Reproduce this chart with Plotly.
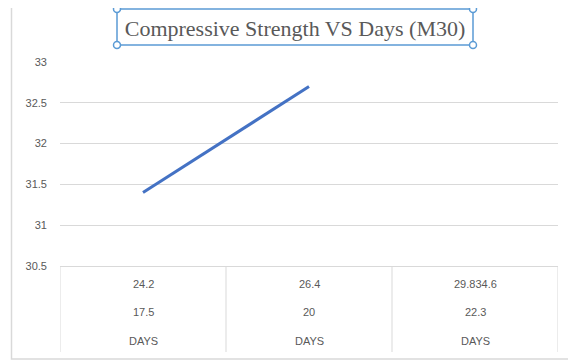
import plotly.graph_objects as go

# ---- data ----
label_row1 = ["24.2", "26.4", "29.834.6"]
label_row2 = ["17.5", "20", "22.3"]
label_row3 = ["DAYS", "DAYS", "DAYS"]
strength = [31.4, 32.7, None]
title_text = "Compressive Strength VS Days (M30)"
y_ticks = [30.5, 31, 31.5, 32, 32.5, 33]

# ---- geometry (reference pixels; page body has an 8px margin) ----
OFF = 8
W, H = 576 - OFF, 362 - OFF
PL, PR, PT, PB = 60 - OFF, 558 - OFF, 62 - OFF, 266 - OFF
pw, ph = PR - PL, PB - PT


def px_x(px):
    return (px - OFF - PL) / pw


def px_y(py):
    return (PB - (py - OFF)) / ph


xs = list(range(len(label_row1)))
grey_text = "#595959"
grid = "#d9d9d9"
blue = "#4472C4"
sel = "#5B9BD5"

fig = go.Figure()
fig.add_trace(go.Scatter(x=xs, y=strength, mode="lines",
                         line=dict(color=blue, width=3), connectgaps=False,
                         hoverinfo="skip", showlegend=False))

shapes = []
# outer chart border
shapes.append(dict(type="rect", xref="paper", yref="paper",
                   x0=px_x(11.5), x1=px_x(572.5), y0=px_y(359), y1=px_y(2.5),
                   line=dict(color=grid, width=1.5), fillcolor="rgba(0,0,0,0)", layer="below"))
# category table vertical dividers
for i in range(len(xs) + 1):
    shapes.append(dict(type="line", xref="x", yref="paper",
                       x0=i - 0.5, x1=i - 0.5, y0=0, y1=px_y(352),
                       line=dict(color=grid, width=1)))
# title selection box
bx0, bx1, by0, by1 = px_x(117), px_x(473), px_y(45), px_y(9)
shapes.append(dict(type="rect", xref="paper", yref="paper",
                   x0=bx0, x1=bx1, y0=by0, y1=by1,
                   line=dict(color=sel, width=1.5), fillcolor="rgba(0,0,0,0)"))
for hx in (bx0, bx1):
    for hy in (by0, by1):
        shapes.append(dict(type="circle", xref="paper", yref="paper",
                           xsizemode="pixel", ysizemode="pixel",
                           xanchor=hx, yanchor=hy, x0=-3.5, x1=3.5, y0=-3.5, y1=3.5,
                           line=dict(color=sel, width=1.5), fillcolor="white"))

annotations = []
rows = [(label_row1, 284), (label_row2, 312), (label_row3, 341)]
for labels, py in rows:
    for x, t in zip(xs, labels):
        annotations.append(dict(x=x, y=px_y(py), xref="x", yref="paper",
                                text=t, showarrow=False, xanchor="center", yanchor="middle",
                                font=dict(family="Liberation Sans, Arial", size=11, color=grey_text)))

fig.update_layout(
    width=W, height=H,
    margin=dict(l=PL, r=W - PR, t=PT, b=H - PB),
    paper_bgcolor="white", plot_bgcolor="white",
    title=dict(text=title_text, x=(295 - OFF) / W, xanchor="center", xref="container",
               y=1 - (28 - OFF) / H, yanchor="middle", yref="container",
               font=dict(family="Liberation Serif, Times New Roman, serif", size=22, color=grey_text)),
    xaxis=dict(range=[-0.5, len(xs) - 0.5], showticklabels=False, showgrid=False,
               zeroline=False, showline=True, linecolor=grid, linewidth=1, fixedrange=True),
    yaxis=dict(range=[30.5, 33], tickvals=y_ticks, ticktext=[f"{v:g}" for v in y_ticks],
               showgrid=True, gridcolor=grid, gridwidth=1, zeroline=False, showline=False,
               ticklabelstandoff=12,
               tickfont=dict(family="Liberation Sans, Arial", size=11, color=grey_text)),
    shapes=shapes,
    annotations=annotations,
    showlegend=False,
)

fig.write_html("out.html")
